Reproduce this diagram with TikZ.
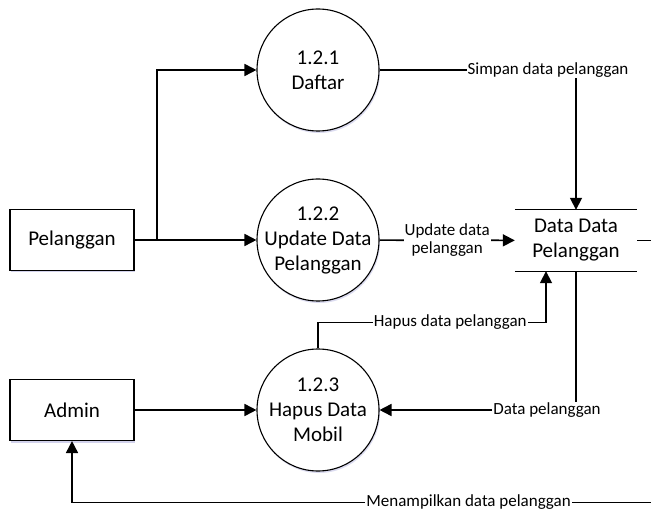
\documentclass[tikz,border=0pt]{standalone}
\usepackage{fontspec}
\setmainfont{Carlito}
\usetikzlibrary{shapes.geometric, arrows.meta, positioning, shadows}
\tikzstyle{entity} = [rectangle, minimum width=124pt, minimum height=61pt, text centered, draw=black, line width=1.1pt, fill=white, drop shadow={shadow xshift=1pt, shadow yshift=-2pt, opacity=0.25, fill=blue!40!gray}, font=\fontsize{21}{25}\selectfont]
\tikzstyle{process} = [circle, minimum size=122pt, inner sep=-5pt, align=center, draw=black, line width=1.1pt, fill=white, drop shadow={shadow xshift=1pt, shadow yshift=-2pt, opacity=0.2, fill=blue!40!gray}, font=\fontsize{21}{25}\selectfont]
\tikzstyle{datastore} = [rectangle, minimum width=122pt, minimum height=61pt, align=center, font=\fontsize{21}{25}\selectfont]
\tikzstyle{flowlabel} = [fill=white, inner sep=1pt, align=center, font=\fontsize{17}{18}\selectfont]
\tikzstyle{arrow} = [line width=1.7pt,-{Triangle[length=12pt,width=12pt]}]

\begin{document}
\begin{tikzpicture}[x=1pt, y=-1pt, node distance=170pt]
\useasboundingbox (0,0) rectangle (651,513);
\node (daftar) [process] at (318,70) {1.2.1\\Daftar};
\node (update) [process, below of=daftar] {1.2.2\\Update Data\\Pelanggan};
\node (hapus) [process, below of=update] {1.2.3\\Hapus Data\\Mobil};

\node (pelanggan) [entity] at (72,240) {Pelanggan};
\node (admin) [entity, below of=pelanggan] {Admin};

\node (store) [datastore] at (576,240.5) {Data Data\\Pelanggan};
\draw [line width=1.1pt] (store.north west) -- (store.north east);
\draw [line width=1.1pt] (store.south west) -- (store.south east);

\coordinate (split) at (157,240);

\draw [arrow] (pelanggan) -- (update);
\draw [arrow] (split) |- (daftar);
\draw [arrow] (daftar) -| node[flowlabel, pos=0.5, xshift=-28pt] {Simpan data pelanggan} (store.north);
\draw [arrow] (update) -- node[flowlabel] {Update data\\pelanggan} (store);
\draw [arrow] (hapus.north) -- ++(0,-26) -| node[flowlabel, pos=0.29] {Hapus data pelanggan} ([xshift=-30pt]store.south);
\draw [arrow] (store.south) |- node[flowlabel, pos=0.5, xshift=-29pt] {Data pelanggan} (hapus);
\draw [arrow] (admin) -- (hapus);
\draw [arrow] (store.east) -- ++(18,0) -- ++(0,262) -| node[flowlabel, pos=0.16] {Menampilkan data pelanggan} (admin.south);
\end{tikzpicture}
\end{document}
